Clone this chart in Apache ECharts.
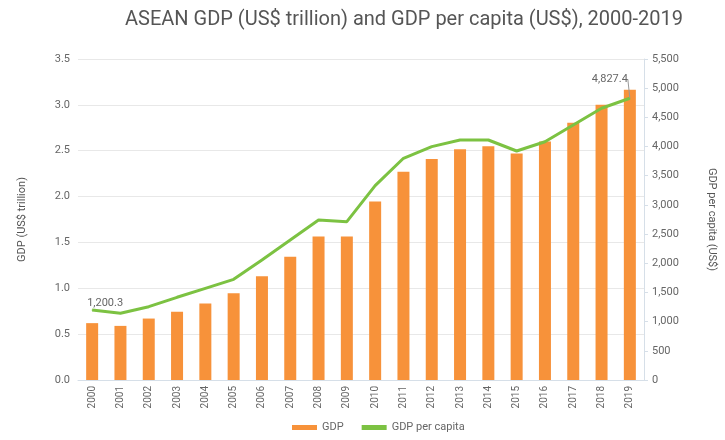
<!DOCTYPE html>
<html>
<head>
<meta charset="utf-8">
<script src="https://cdn.jsdelivr.net/npm/echarts@6/dist/echarts.min.js"></script>
<style>html,body{margin:0;padding:0;background:#fff;}#c{width:725px;height:440px;}</style>
</head>
<body>
<div id="c"></div>
<script>
var years = ['2000','2001','2002','2003','2004','2005','2006','2007','2008','2009','2010','2011','2012','2013','2014','2015','2016','2017','2018','2019'];
var gdp = [0.62,0.59,0.67,0.745,0.835,0.945,1.13,1.345,1.565,1.565,1.945,2.27,2.41,2.515,2.55,2.47,2.6,2.805,3.0,3.165];
var gdpPerCapita = [1200.3,1143,1256,1417,1571,1725,2056,2399,2742,2713,3330,3799,3998,4112,4112,3924,4083,4370,4656,4827.4];
var leftTicks = {min:0, max:3.5, interval:0.5};
var rightTicks = {min:0, max:5500, interval:500};

var fontFam = 'Roboto, "Noto Sans", sans-serif';
function fmtNum(v, dec){
  var s = v.toFixed(dec);
  var parts = s.split('.');
  parts[0] = parts[0].replace(/\B(?=(\d{3})+(?!\d))/g, ',');
  return parts.join('.');
}
var last = gdpPerCapita.length - 1;
var lineData = gdpPerCapita.map(function(v, i){
  if(i === 0) return {value:v, label:{show:true}, labelLine:{show:false}};
  if(i === last) return {value:v, label:{show:true}, labelLine:{show:true}};
  return {value:v, label:{show:false}, labelLine:{show:false}};
});
var chart = echarts.init(document.getElementById('c'));
chart.setOption({
  backgroundColor:'#fff',
  animation:false,
  textStyle:{fontFamily:fontFam},
  title:{
    text:'ASEAN GDP (US$ trillion) and GDP per capita (US$), 2000-2019',
    left:399, top:5, textAlign:'center',
    textStyle:{fontSize:20, fontWeight:'normal', color:'#555', fontFamily:fontFam}
  },
  legend:{
    bottom:2, left:287,
    itemWidth:25, itemHeight:5, itemGap:18,
    textStyle:{color:'#666', fontSize:11},
    data:[{name:'GDP', icon:'rect'},{name:'GDP per capita', icon:'rect'}]
  },
  grid:{left:78, right:72, top:59, bottom:60},
  xAxis:{
    type:'category', data:years,
    axisLine:{lineStyle:{color:'#d6dfe8'}},
    axisTick:{show:false},
    axisLabel:{rotate:90, color:'#666', fontSize:10, margin:6}
  },
  yAxis:[{
    type:'value', min:leftTicks.min, max:leftTicks.max, interval:leftTicks.interval,
    name:'GDP (US$ trillion)', nameLocation:'middle', nameGap:50, nameRotate:90,
    nameTextStyle:{color:'#555', fontSize:11},
    axisLine:{show:false}, axisTick:{show:false},
    axisLabel:{color:'#666', fontSize:11, formatter:function(v){return v.toFixed(1);}},
    splitLine:{lineStyle:{color:'#e8e8e8'}}
  },{
    type:'value', min:rightTicks.min, max:rightTicks.max, interval:rightTicks.interval,
    name:'GDP per capita (US$)', nameLocation:'middle', nameGap:62, nameRotate:-90,
    nameTextStyle:{color:'#555', fontSize:11},
    axisLine:{show:true, lineStyle:{color:'#d6dfe8'}},
    axisTick:{show:true, length:4, lineStyle:{color:'#d6dfe8'}},
    axisLabel:{color:'#666', fontSize:11, margin:8, formatter:function(v){return fmtNum(v,0);}},
    splitLine:{show:false}
  }],
  series:[{
    name:'GDP', type:'bar', data:gdp, barWidth:12,
    itemStyle:{color:'#f7923a'}, z:2
  },{
    name:'GDP per capita', type:'line', yAxisIndex:1, data:lineData,
    symbol:'circle', symbolSize:1, showSymbol:true,
    lineStyle:{color:'#7cc242', width:3}, itemStyle:{color:'#7cc242'}, z:3,
    label:{
      position:'top', color:'#666', fontSize:11,
      formatter:function(p){ return fmtNum(p.value,1); }
    },
    labelLine:{lineStyle:{color:'#999', width:1}},
    labelLayout:function(p){
      if(p.dataIndex===0) return {dx:13, dy:4};
      if(p.dataIndex===last) return {dx:-20, dy:-8};
      return {};
    }
  }]
});
</script>
</body>
</html>
